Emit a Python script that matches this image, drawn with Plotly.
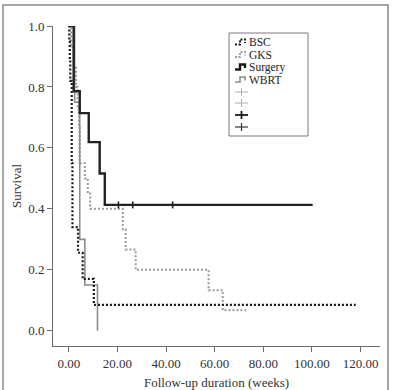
import plotly.graph_objects as go

# ---- data ----
bsc_t = [0, 0.2, 0.4, 0.6, 1.2, 1.5, 3.8, 5.7, 10.3, 118]
bsc_s = [1.0, 0.95, 0.89, 0.82, 0.55, 0.34, 0.256, 0.17, 0.085, 0.085]

gks_t = [0, 1.0, 2.0, 3.0, 3.6, 4.2, 4.5, 6.6, 7.8, 8.8, 22.2, 23.4, 27.5, 57.5, 63.3, 73]
gks_s = [1.0, 0.93, 0.87, 0.80, 0.73, 0.67, 0.55, 0.50, 0.45, 0.40, 0.333, 0.267, 0.20, 0.133, 0.067, 0.067]

surg_t = [0, 2.0, 4.5, 8.2, 12.7, 14.8, 100.3]
surg_s = [1.0, 0.786, 0.714, 0.619, 0.516, 0.413, 0.413]
surg_cens_t = [20.4, 26.3, 42.7]
surg_cens_s = [0.413, 0.413, 0.413]

wbrt_t = [0, 2.4, 4.5, 6.6, 11.8, 11.8]
wbrt_s = [1.0, 0.75, 0.30, 0.15, 0.0, 0.0]

legend_names = ["BSC", "GKS", "Surgery", "WBRT"]
x_ticks = [0, 20, 40, 60, 80, 100, 120]
y_ticks = [0.0, 0.2, 0.4, 0.6, 0.8, 1.0]

FONT = "Liberation Serif"

# plot area in pixels
L, R, T, B = 53, 380, 26, 346
W, H = 394, 390


def pxx(px):
    return (px - L) / (R - L)


def pxy(py):
    return (B - py) / (B - T)


fig = go.Figure()
fig.add_trace(go.Scatter(x=gks_t, y=gks_s, mode="lines", line=dict(shape="hv", color="#9a9a9a", width=2, dash="2px,2px"), showlegend=False))
fig.add_trace(go.Scatter(x=wbrt_t, y=wbrt_s, mode="lines", line=dict(shape="hv", color="#8c8c8c", width=1.6), showlegend=False))
fig.add_trace(go.Scatter(x=bsc_t, y=bsc_s, mode="lines", line=dict(shape="hv", color="#1a1a1a", width=2.2, dash="2px,2px"), showlegend=False))
fig.add_trace(go.Scatter(x=surg_t, y=surg_s, mode="lines", line=dict(shape="hv", color="#222222", width=2.4), showlegend=False))
fig.add_trace(go.Scatter(x=surg_cens_t, y=surg_cens_s, mode="markers",
                         marker=dict(symbol="line-ns", size=5, line=dict(color="#222222", width=1.6)), showlegend=False))

shapes = []
# outer border
shapes.append(dict(type="rect", xref="paper", yref="paper", x0=pxx(3), x1=pxx(388), y0=pxy(400), y1=pxy(5),
                   line=dict(color="#8a8a8a", width=1.5)))
# legend box
shapes.append(dict(type="rect", xref="paper", yref="paper", x0=pxx(229), x1=pxx(308), y0=pxy(136), y1=pxy(33),
                   line=dict(color="#7a7a7a", width=1)))

row_y = [42, 54.5, 67, 79.5]
styles = [
    dict(color="#1a1a1a", width=2, dash="2px,1.5px"),
    dict(color="#9a9a9a", width=1.8, dash="2px,1.5px"),
    dict(color="#1a1a1a", width=2.4),
    dict(color="#8c8c8c", width=1.6),
]
annotations = []
for name, y, st in zip(legend_names, row_y, styles):
    pts = [(235, y + 2.5), (240, y + 2.5), (240, y - 2.5), (245, y - 2.5), (245, y + 1)]
    path = "M " + " L ".join(f"{pxx(a):.5f},{pxy(b):.5f}" for a, b in pts)
    shapes.append(dict(type="path", xref="paper", yref="paper", path=path, line=st))
    annotations.append(dict(text=name, xref="paper", yref="paper", x=pxx(248), y=pxy(y), xanchor="left", yanchor="middle",
                            borderpad=0, showarrow=False, font=dict(family=FONT, size=11.5, color="#222222")))

plus_rows = [(92, "#b0b0b0", 1), (103, "#b0b0b0", 1), (115, "#1a1a1a", 1.8), (127, "#333333", 1.2)]
for y, c, w in plus_rows:
    shapes.append(dict(type="line", xref="paper", yref="paper", x0=pxx(235), x1=pxx(248), y0=pxy(y), y1=pxy(y),
                       line=dict(color=c, width=w)))
    shapes.append(dict(type="line", xref="paper", yref="paper", x0=pxx(241.5), x1=pxx(241.5), y0=pxy(y - 4), y1=pxy(y + 4),
                       line=dict(color=c, width=w)))

fig.update_layout(
    width=W, height=H,
    margin=dict(l=L, r=W - R, t=T, b=H - B, autoexpand=False),
    paper_bgcolor="white", plot_bgcolor="white",
    font=dict(family=FONT, size=13, color="#333333"),
    shapes=shapes, annotations=annotations,
    xaxis=dict(range=[-6.5, 128], tickvals=x_ticks, ticktext=[f"{v:.2f}" for v in x_ticks],
               showline=True, linecolor="#6a6a6a", linewidth=1, ticks="outside", ticklen=5, tickcolor="#6a6a6a",
               automargin=False,
               showgrid=False, zeroline=False,
               title=dict(text="Follow-up duration (weeks)", font=dict(family=FONT, size=13, color="#333333"), standoff=15)),
    yaxis=dict(range=[-0.05, 1.0], tickvals=y_ticks, ticktext=[f"{v:.1f}" for v in y_ticks],
               showline=True, linecolor="#6a6a6a", linewidth=1, ticks="outside", ticklen=5, tickcolor="#6a6a6a",
               automargin=False,
               showgrid=False, zeroline=False,
               title=dict(text="Survival", font=dict(family=FONT, size=13, color="#333333"), standoff=3)),
)

fig.write_html("out.html")
